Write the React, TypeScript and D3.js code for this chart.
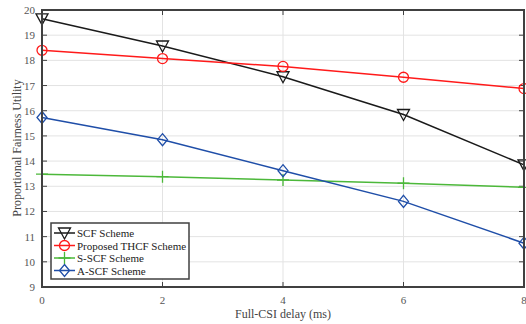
import React, { useRef, useEffect } from "react";
import * as d3 from "d3";

const delays = [0, 2, 4, 6, 8];
const scf = [19.65, 18.57, 17.35, 15.85, 13.85];
const thcf = [18.4, 18.07, 17.76, 17.33, 16.88];
const sscf = [13.48, 13.38, 13.25, 13.12, 12.96];
const ascf = [15.73, 14.85, 13.62, 12.4, 10.74];
const yTicks = [9, 10, 11, 12, 13, 14, 15, 16, 17, 18, 19, 20];

const seriesList = [
  { name: "SCF Scheme", values: scf, color: "#1a1a1a", marker: "tri" },
  { name: "Proposed THCF Scheme", values: thcf, color: "#ff1a1a", marker: "circle" },
  { name: "S-SCF Scheme", values: sscf, color: "#4cb83a", marker: "plus" },
  { name: "A-SCF Scheme", values: ascf, color: "#1f4ea8", marker: "diamond" },
];

const drawMarker = (g, type, x, y, color) => {
  if (type === "tri") {
    g.append("path")
      .attr("d", `M${x - 6},${y - 5} L${x + 6},${y - 5} L${x},${y + 6} Z`)
      .attr("fill", "none").attr("stroke", color).attr("stroke-width", 1.3);
  } else if (type === "circle") {
    g.append("circle").attr("cx", x).attr("cy", y).attr("r", 5)
      .attr("fill", "none").attr("stroke", color).attr("stroke-width", 1.3);
  } else if (type === "plus") {
    g.append("path")
      .attr("d", `M${x - 6},${y} L${x + 6},${y} M${x},${y - 6} L${x},${y + 6}`)
      .attr("stroke", color).attr("stroke-width", 1.3);
  } else {
    g.append("path")
      .attr("d", `M${x},${y - 6} L${x + 5},${y} L${x},${y + 6} L${x - 5},${y} Z`)
      .attr("fill", "none").attr("stroke", color).attr("stroke-width", 1.3);
  }
};

const App = () => {
  const ref = useRef(null);

  useEffect(() => {
    const svg = d3.select(ref.current);
    svg.selectAll("*").remove();

    const left = 42, right = 524, top = 10, bottom = 287;
    const x = d3.scaleLinear().domain([0, 8]).range([left, right]);
    const y = d3.scaleLinear().domain([9, 20]).range([bottom, top]);
    const font = "'Liberation Serif', 'Times New Roman', serif";

    const grid = svg.append("g");
    delays.forEach((d) => {
      grid.append("line").attr("x1", x(d)).attr("x2", x(d)).attr("y1", top).attr("y2", bottom)
        .attr("stroke", "#e3e3e3").attr("stroke-width", 1);
    });
    yTicks.forEach((d) => {
      grid.append("line").attr("x1", left).attr("x2", right).attr("y1", y(d)).attr("y2", y(d))
        .attr("stroke", "#e3e3e3").attr("stroke-width", 1);
    });

    const ax = svg.append("g").attr("stroke", "#404040").attr("stroke-width", 1);
    delays.forEach((d) => {
      ax.append("line").attr("x1", x(d)).attr("x2", x(d)).attr("y1", bottom).attr("y2", bottom - 5);
      ax.append("line").attr("x1", x(d)).attr("x2", x(d)).attr("y1", top).attr("y2", top + 5);
    });
    yTicks.forEach((d) => {
      ax.append("line").attr("x1", left).attr("x2", left + 5).attr("y1", y(d)).attr("y2", y(d));
      ax.append("line").attr("x1", right).attr("x2", right - 5).attr("y1", y(d)).attr("y2", y(d));
    });

    const line = d3.line().x((d) => x(d[0])).y((d) => y(d[1]));
    seriesList.forEach((s) => {
      const pts = delays.map((d, i) => [d, s.values[i]]);
      svg.append("path").attr("d", line(pts)).attr("fill", "none")
        .attr("stroke", s.color).attr("stroke-width", 1.5);
      const mg = svg.append("g");
      pts.forEach((p) => drawMarker(mg, s.marker, x(p[0]), y(p[1]), s.color));
    });

    svg.append("rect").attr("x", left).attr("y", top).attr("width", right - left)
      .attr("height", bottom - top).attr("fill", "none")
      .attr("stroke", "#404040").attr("stroke-width", 2);

    delays.forEach((d) => {
      svg.append("text").attr("x", x(d)).attr("y", 304).attr("text-anchor", "middle")
        .attr("font-family", font).attr("font-size", 11).attr("fill", "#555").text(d);
    });
    yTicks.forEach((d) => {
      svg.append("text").attr("x", 35).attr("y", y(d) + 4).attr("text-anchor", "end")
        .attr("font-family", font).attr("font-size", 11).attr("fill", "#555").text(d);
    });

    svg.append("text").attr("x", 283).attr("y", 318).attr("text-anchor", "middle")
      .attr("font-family", font).attr("font-size", 12).attr("fill", "#444")
      .text("Full-CSI delay (ms)");
    svg.append("text").attr("transform", "translate(21,148) rotate(-90)")
      .attr("text-anchor", "middle").attr("font-family", font).attr("font-size", 12)
      .attr("fill", "#444").text("Proportional Fairness Utility");

    const lg = svg.append("g");
    lg.append("rect").attr("x", 51).attr("y", 223).attr("width", 138).attr("height", 56)
      .attr("fill", "#fff").attr("stroke", "#404040").attr("stroke-width", 1.5);
    seriesList.forEach((s, i) => {
      const ly = 233 + i * 12.5;
      lg.append("line").attr("x1", 54).attr("x2", 75).attr("y1", ly).attr("y2", ly)
        .attr("stroke", s.color).attr("stroke-width", 1.5);
      drawMarker(lg, s.marker, 64.5, ly, s.color);
      lg.append("text").attr("x", 77).attr("y", ly + 4).attr("font-family", font)
        .attr("font-size", 11).attr("fill", "#222").text(s.name);
    });
  }, []);

  return (
    <svg ref={ref} width={526} height={324}
      style={{ position: "absolute", left: 0, top: 0, background: "#fff" }} />
  );
};

export default App;
